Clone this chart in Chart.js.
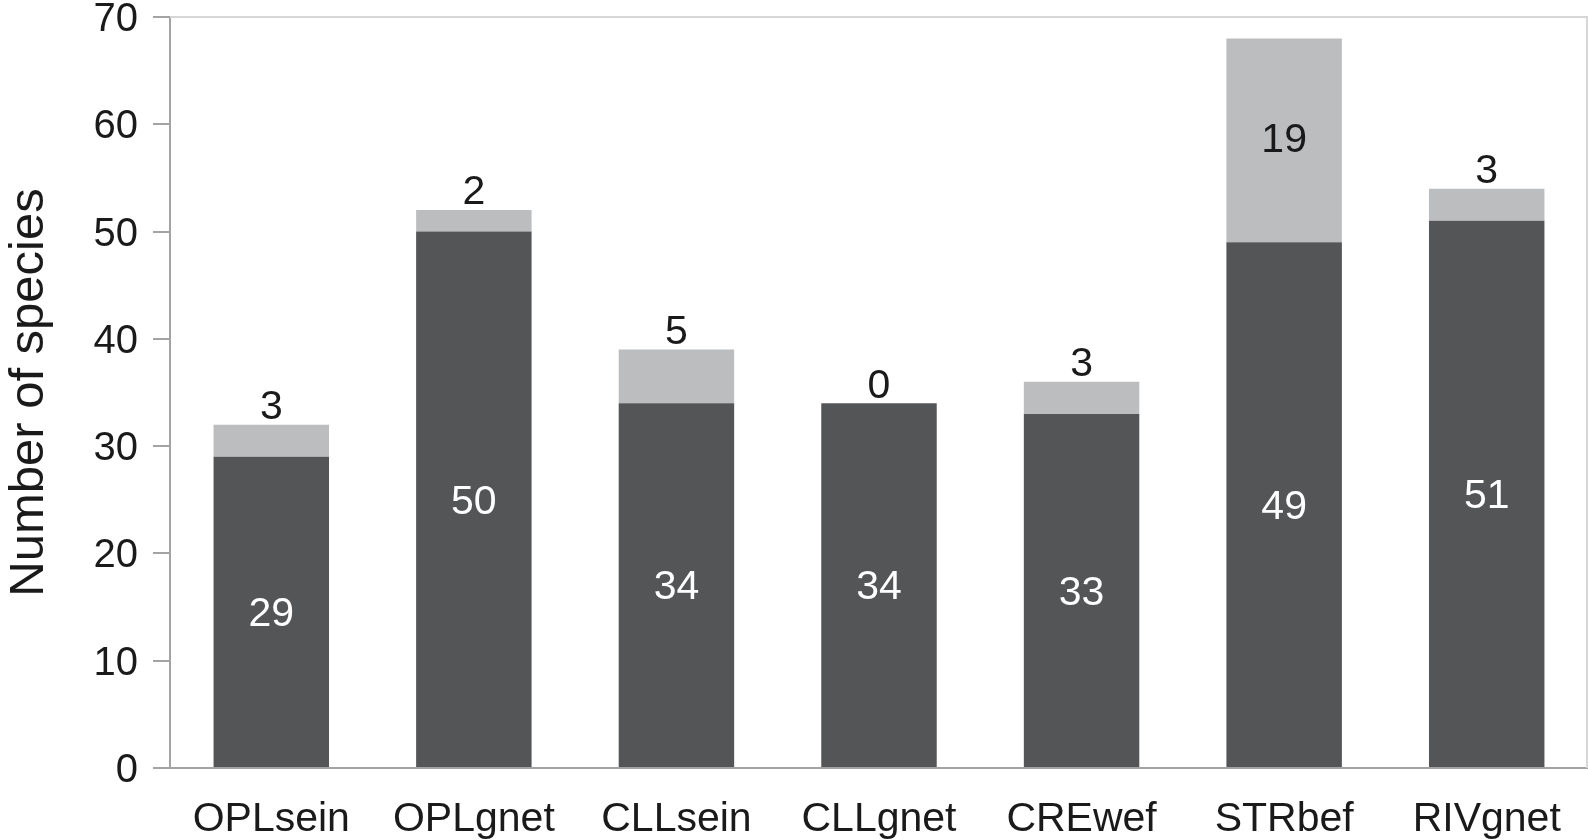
<!DOCTYPE html>
<html>
<head>
<meta charset="utf-8">
<script src="https://cdn.jsdelivr.net/npm/chart.js@4/dist/chart.umd.min.js"></script>
<style>
    html, body { margin: 0; padding: 0; background: #fff; }
    #wrap { width: 1588px; height: 840px; }
</style>
</head>
<body>
<div id="wrap"><canvas id="speciesChart"></canvas></div>
<script>
// Data
const categories = ['OPLsein', 'OPLgnet', 'CLLsein', 'CLLgnet', 'CREwef', 'STRbef', 'RIVgnet'];
const darkValues = [29, 50, 34, 34, 33, 49, 51];
const lightValues = [3, 2, 5, 0, 3, 19, 3];
const yTicks = [0, 10, 20, 30, 40, 50, 60, 70];

const FONT = '"Liberation Sans", Arial, Helvetica, sans-serif';
const AXIS_GRAY = '#a3a3a3';

// Value labels: dark segment centred, light segment centred if tall enough, else above the bar
const valueLabels = {
    id: 'valueLabels',
    afterDatasetsDraw(chart) {
        const ctx = chart.ctx;
        ctx.save();
        ctx.font = '41px ' + FONT;
        ctx.textAlign = 'center';
        ctx.textBaseline = 'middle';

        const darkMeta = chart.getDatasetMeta(0);
        const lightMeta = chart.getDatasetMeta(1);

        darkMeta.data.forEach((bar, i) => {
            ctx.fillStyle = '#ffffff';
            ctx.fillText(darkValues[i], bar.x, (bar.y + bar.base) / 2 + 3);
        });

        lightMeta.data.forEach((bar, i) => {
            const h = Math.abs(bar.base - bar.y);
            ctx.fillStyle = '#1a1a1a';
            if (h > 80) {
                ctx.fillText(lightValues[i], bar.x, (bar.y + bar.base) / 2);
            } else {
                ctx.fillText(lightValues[i], bar.x, bar.y - 17);
            }
        });
        ctx.restore();
    }
};

// Light frame on top and right of the plot
const frame = {
    id: 'frame',
    beforeDatasetsDraw(chart) {
        const { ctx, chartArea } = chart;
        ctx.save();
        ctx.strokeStyle = '#d6d6d6';
        ctx.lineWidth = 2;
        ctx.beginPath();
        ctx.moveTo(chartArea.left, chartArea.top);
        ctx.lineTo(chartArea.right - 1, chartArea.top);
        ctx.lineTo(chartArea.right - 1, chartArea.bottom);
        ctx.stroke();
        ctx.restore();
    }
};

function initSpeciesChart() {
    const ctx = document.getElementById('speciesChart').getContext('2d');
    return new Chart(ctx, {
        type: 'bar',
        data: {
            labels: categories,
            datasets: [
                {
                    label: 'Dark',
                    data: darkValues,
                    backgroundColor: '#545557',
                    categoryPercentage: 1,
                    barPercentage: 0.57
                },
                {
                    label: 'Light',
                    data: lightValues,
                    backgroundColor: '#bcbdbf',
                    categoryPercentage: 1,
                    barPercentage: 0.57
                }
            ]
        },
        options: {
            responsive: true,
            maintainAspectRatio: false,
            animation: false,
            layout: {
                padding: { top: 17, right: 0, bottom: 0, left: 0 }
            },
            scales: {
                x: {
                    stacked: true,
                    grid: { display: false },
                    border: { color: AXIS_GRAY, width: 2 },
                    ticks: {
                        color: '#1a1a1a',
                        font: { family: FONT, size: 41 },
                        padding: 19,
                        maxRotation: 0
                    },
                    afterFit(scale) {
                        scale.height = 72;
                        scale.paddingLeft = 0;
                        scale.paddingRight = 0;
                    }
                },
                y: {
                    stacked: true,
                    min: 0,
                    max: 70,
                    afterBuildTicks(scale) {
                        scale.ticks = yTicks.map(v => ({ value: v }));
                    },
                    grid: {
                        color: 'transparent',
                        tickColor: AXIS_GRAY,
                        tickLength: 17,
                        lineWidth: 2
                    },
                    border: { color: AXIS_GRAY, width: 2 },
                    ticks: {
                        color: '#1a1a1a',
                        font: { family: FONT, size: 40 },
                        padding: 15,
                        labelOffset: 3
                    },
                    title: {
                        display: true,
                        text: 'Number of species',
                        color: '#1a1a1a',
                        font: { family: FONT, size: 49 },
                        padding: { top: 0, bottom: 0 }
                    },
                    afterFit(scale) {
                        scale.width = 170;
                        scale.paddingTop = 0;
                        scale.paddingBottom = 0;
                    }
                }
            },
            plugins: {
                legend: { display: false },
                title: { display: false },
                tooltip: { enabled: false }
            }
        },
        plugins: [frame, valueLabels]
    });
}

initSpeciesChart();
</script>
</body>
</html>
